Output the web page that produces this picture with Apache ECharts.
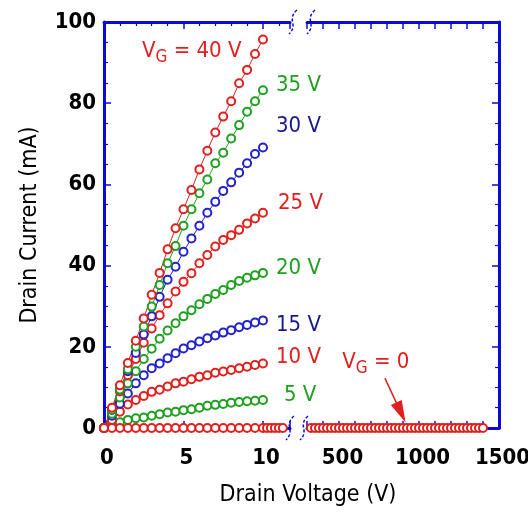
<!DOCTYPE html>
<html>
<head>
<meta charset="utf-8">
<script src="https://cdn.jsdelivr.net/npm/echarts@6/dist/echarts.min.js"></script>
<style>
  html, body { margin: 0; padding: 0; background: #fff; }
  #chart { width: 528px; height: 519px; }
</style>
</head>
<body>
<div id="chart"></div>
<script>
// drain voltage steps (V) for the gate sweeps
const drainV = [0, 0.5, 1, 1.5, 2, 2.5, 3, 3.5, 4, 4.5, 5, 5.5, 6, 6.5, 7, 7.5, 8, 8.5, 9, 9.5, 10];
// drain current (mA) for each gate voltage
const gate40 = [0, 5, 10.5, 16, 21.5, 27, 32.8, 38.2, 44, 49.2, 53.9, 58.6, 63.7, 68.3, 72.8, 76.7, 80.5, 84.9, 88.2, 92.1, 95.7];
const gate35 = [0, 4.5, 9.5, 14.5, 20, 25, 29.9, 35.2, 40.6, 44.8, 49.8, 53.9, 57.8, 61.2, 65.2, 67.8, 71.3, 74.6, 77.9, 80.5, 83.2];
const gate30 = [0, 4.5, 9.5, 14, 18.5, 23, 27.5, 32.3, 36.5, 39.7, 43.4, 46.7, 49.8, 53, 55.7, 58.4, 60.5, 62.9, 65.2, 67.5, 69.1];
const gate25 = [0, 4.5, 9, 13, 17, 21, 24.5, 27.8, 30.7, 33.6, 36, 38.1, 40.6, 42.6, 44.7, 46.3, 47.5, 48.8, 50.4, 51.6, 53];
const gate20 = [0, 3.5, 7.5, 11, 14, 17, 19.5, 22, 24, 25.8, 27.5, 29, 30.5, 31.8, 33, 34, 35.2, 36.2, 37, 37.6, 38.2];
const gate15 = [0, 3, 6, 8.5, 11, 13, 14.7, 15.9, 17.2, 18.4, 19.6, 20.4, 21.3, 22.1, 22.8, 23.5, 24.1, 24.8, 25.4, 26, 26.5];
const gate10 = [0, 2, 4, 5.8, 6.9, 7.9, 8.9, 9.4, 10.2, 11, 11.4, 12, 12.6, 13, 13.6, 13.9, 14.3, 14.7, 15.1, 15.5, 15.9];
const gate5 = [0, 0.8, 1.4, 2, 2.4, 2.6, 3, 3.4, 3.8, 4, 4.4, 4.6, 5, 5.5, 5.7, 5.9, 6.2, 6.4, 6.6, 6.7, 6.9];
// V_G = 0 (off state), low and high voltage parts
const offLowV = [0, 0.5, 1, 1.5, 2, 2.5, 3, 3.5, 4, 4.5, 5, 5.5, 6, 6.5, 7, 7.5, 8, 8.5, 9, 9.5, 10, 10.25, 10.5, 10.75, 11, 11.25];
const offLowI = [0, 0, 0, 0, 0, 0, 0, 0, 0, 0, 0, 0, 0, 0, 0, 0, 0, 0, 0, 0, 0, 0, 0, 0, 0, 0];
const offHighV = [325, 350, 375, 400, 425, 450, 475, 500, 525, 550, 575, 600, 625, 650, 675, 700, 725, 750, 775, 800, 825, 850, 875, 900, 925, 950, 975, 1000, 1025, 1050, 1075, 1100, 1125, 1150, 1175, 1200, 1225, 1250, 1275, 1300, 1325, 1350, 1375, 1400];
const offHighI = [0, 0, 0, 0, 0, 0, 0, 0, 0, 0, 0, 0, 0, 0, 0, 0, 0, 0, 0, 0, 0, 0, 0, 0, 0, 0, 0, 0, 0, 0, 0, 0, 0, 0, 0, 0, 0, 0, 0, 0, 0, 0, 0, 0];
const lowTicks = [0, 5, 10];
const highTicks = [500, 1000, 1500];

const FONT = "'Liberation Sans Narrow', 'DejaVu Sans Condensed', 'Liberation Sans', sans-serif";
const RED = '#e0201f';
const GREEN = '#1f9f1f';
const BLUE = '#2222c8';
const NAVY = '#18188e';
const AXIS = '#0b0bd6';

const chart = echarts.init(document.getElementById('chart'));

function pairs(xs, ys) {
  return xs.map((x, i) => [x, ys[i]]);
}

function curve(name, values, color, labelColor, text, offset) {
  return {
    name: name,
    type: 'line',
    xAxisIndex: 0,
    yAxisIndex: 0,
    data: pairs(drainV, values),
    symbol: 'emptyCircle',
    symbolSize: 8,
    lineStyle: { color: color, width: 1 },
    itemStyle: { color: color, borderWidth: 1.3 },
    endLabel: {
      show: true,
      formatter: text,
      offset: offset,
      color: labelColor,
      fontFamily: FONT,
      fontSize: 22,
      rich: {
        v: { fontFamily: FONT, fontSize: 22, color: labelColor },
        g: { fontFamily: FONT, fontSize: 17, color: labelColor, padding: [13, 0, 0, 0] }
      }
    }
  };
}

const tickStyle = { show: true, inside: true, length: 7, lineStyle: { color: AXIS, width: 1.5 } };
const minorStyle = { show: true, length: 4, lineStyle: { color: AXIS, width: 1.2 } };
const lineStyle = { show: true, lineStyle: { color: AXIS, width: 3 } };
const labelStyle = { color: '#000', fontFamily: FONT, fontWeight: 'bold', fontSize: 22 };

const option = {
  animation: false,
  title: {
    text: 'Drain Voltage (V)',
    left: 303,
    top: 479,
    textAlign: 'center',
    textStyle: { fontFamily: FONT, fontWeight: 'normal', fontSize: 23, color: '#000' }
  },
  grid: [
    { left: 104, width: 186, top: 22, height: 406, outerBoundsMode: 'none' },
    { left: 307, width: 192, top: 22, height: 406, outerBoundsMode: 'none' }
  ],
  xAxis: [
    {
      type: 'value', gridIndex: 0, position: 'bottom', min: 0, max: 11.7, interval: 5,
      axisLine: lineStyle, axisTick: tickStyle, minorTick: Object.assign({ splitNumber: 5 }, minorStyle),
      splitLine: { show: false },
      axisLabel: Object.assign({ margin: 19, interval: 0, padding: [0, 0, 0, 6],
        formatter: v => (lowTicks.includes(v) ? String(v) : '') }, labelStyle)
    },
    {
      type: 'value', gridIndex: 0, position: 'top', min: 0, max: 11.7, interval: 5,
      axisLine: lineStyle, axisTick: tickStyle, minorTick: Object.assign({ splitNumber: 5 }, minorStyle),
      splitLine: { show: false }, axisLabel: { show: false }
    },
    {
      type: 'value', gridIndex: 1, position: 'bottom', min: 300, max: 1500, interval: 100,
      axisLine: lineStyle, axisTick: tickStyle,
      splitLine: { show: false },
      axisLabel: Object.assign({ margin: 19, interval: 0, padding: [0, 0, 0, 7],
        formatter: v => (highTicks.includes(v) ? String(v) : '') }, labelStyle)
    },
    {
      type: 'value', gridIndex: 1, position: 'top', min: 300, max: 1500, interval: 100,
      axisLine: lineStyle, axisTick: tickStyle,
      splitLine: { show: false }, axisLabel: { show: false }
    }
  ],
  yAxis: [
    {
      type: 'value', gridIndex: 0, position: 'left', min: 0, max: 100, interval: 20,
      axisLine: lineStyle, axisTick: tickStyle, minorTick: Object.assign({ splitNumber: 4 }, minorStyle),
      splitLine: { show: false },
      axisLabel: Object.assign({ margin: 8 }, labelStyle),
      name: 'Drain Current (mA)', nameLocation: 'middle', nameGap: 62,
      nameTextStyle: { fontFamily: FONT, fontSize: 23, color: '#000' }
    },
    {
      type: 'value', gridIndex: 1, position: 'right', min: 0, max: 100, interval: 20,
      axisLine: lineStyle, axisTick: tickStyle, minorTick: Object.assign({ splitNumber: 4 }, minorStyle),
      splitLine: { show: false }, axisLabel: { show: false }
    }
  ],
  series: [
    curve('5 V', gate5, GREEN, GREEN, '5 V', [13, -5]),
    curve('10 V', gate10, RED, RED, '10 V', [5, -6]),
    curve('15 V', gate15, BLUE, NAVY, '15 V', [5, 5]),
    curve('20 V', gate20, GREEN, GREEN, '20 V', [5, -5]),
    curve('25 V', gate25, RED, RED, '25 V', [7, -10]),
    curve('30 V', gate30, BLUE, NAVY, '30 V', [5, -21]),
    curve('35 V', gate35, GREEN, GREEN, '35 V', [5, -5]),
    curve('40 V', gate40, RED, RED, '{v|V}{g|G}{v| = 40 V}', [-129, 12]),
    {
      name: 'VG0 low',
      type: 'line', xAxisIndex: 0, yAxisIndex: 0,
      data: pairs(offLowV, offLowI),
      symbol: 'emptyCircle', symbolSize: 8,
      lineStyle: { color: RED, width: 1 },
      itemStyle: { color: RED, borderWidth: 1.3 }
    },
    {
      name: 'VG0 high',
      type: 'line', xAxisIndex: 2, yAxisIndex: 1,
      data: pairs(offHighV, offHighI),
      symbol: 'emptyCircle', symbolSize: 8,
      lineStyle: { color: RED, width: 1 },
      itemStyle: { color: RED, borderWidth: 1.3 },
      markPoint: {
        symbolSize: 0,
        label: {
          show: true, position: 'inside',
          formatter: '{v|V}{g|G}{v| = 0}',
          rich: {
            v: { fontFamily: FONT, fontSize: 22, color: RED },
            g: { fontFamily: FONT, fontSize: 17, color: RED, padding: [13, 0, 0, 0] }
          }
        },
        data: [{ coord: [730, 16.3] }]
      },
      markLine: {
        silent: true,
        symbol: ['none', 'triangle'],
        symbolSize: [12, 22],
        lineStyle: { color: RED, width: 1.5, type: 'solid' },
        itemStyle: { color: RED },
        label: { show: false },
        data: [[{ coord: [787, 12.3] }, { coord: [887, 3.8] }]]
      }
    }
  ]
};

chart.setOption(option);

// axis break marks between the two voltage ranges
const xL = chart.convertToPixel({ xAxisIndex: 0 }, 11.7);
const xR = chart.convertToPixel({ xAxisIndex: 2 }, 300);
const yTop = chart.convertToPixel({ yAxisIndex: 0 }, 100);
const yBot = chart.convertToPixel({ yAxisIndex: 0 }, 0);

function breakMark(x, y) {
  return {
    type: 'bezierCurve',
    shape: { x1: x + 4, y1: y - 12, cpx1: x - 7, cpy1: y - 2, cpx2: x + 6, cpy2: y + 2, x2: x - 4, y2: y + 12 },
    style: { stroke: AXIS, lineWidth: 1.5, lineDash: [3, 2], fill: null },
    z: 100
  };
}

chart.setOption({
  graphic: [
    breakMark(xL, yBot), breakMark(xR - 3, yBot),
    breakMark(xL + 3, yTop), breakMark(xR + 4, yTop)
  ]
});
</script>
</body>
</html>
